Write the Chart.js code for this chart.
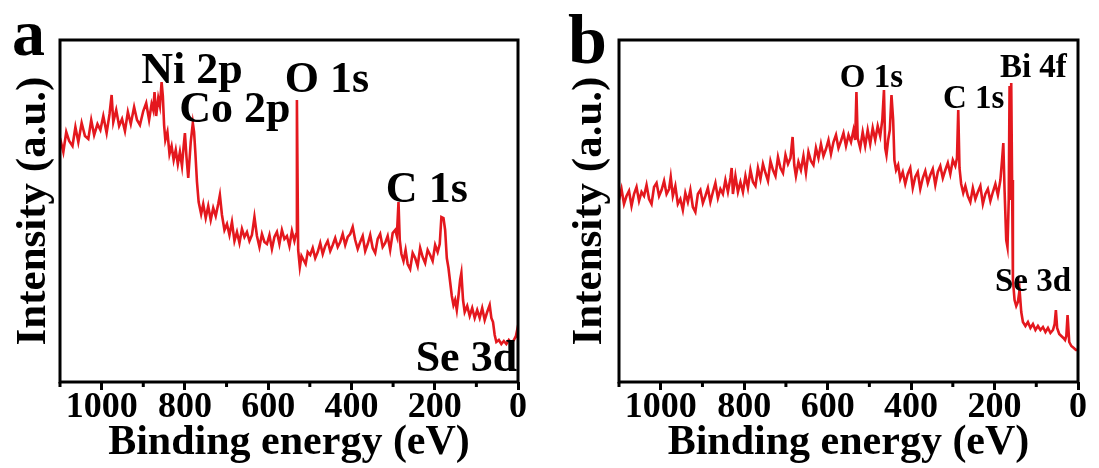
<!DOCTYPE html>
<html><head><meta charset="utf-8">
<script src="https://cdn.jsdelivr.net/npm/chart.js@4/dist/chart.umd.min.js"></script>
<style>
html,body{margin:0;padding:0;background:#fff;}
#wrap{position:relative;width:1099px;height:468px;overflow:hidden;}
#ca{position:absolute;left:0;top:0;}
#cb{position:absolute;left:549px;top:0;}
</style></head><body>
<div id="wrap"><canvas id="ca" width="549" height="468"></canvas><canvas id="cb" width="550" height="468"></canvas></div>
<script>
// ---- Panel a: binding energy (eV) and intensity (a.u.) ----
const energyA = [1100,1092,1085,1078,1070,1063,1056,1048,1040,1032,1025,1018,1010,1003,996,988,981,976,972,965,958,951,944,937,930,922,915,908,900,893,886,880,876,873,869,864,860,856,853,850,847,842,837,832,827,822,817,812,807,803,800,796,792,786,781,778,775,771,767,761,756,750,744,738,732,726,720,716,711,705,699,693,687,681,675,669,663,657,651,645,639,633,627,621,615,609,603,597,591,585,579,573,567,561,555,549,543,537,533,531,528,524,520,515,510,505,499,493,487,481,475,469,463,457,451,445,439,433,427,421,415,409,403,397,391,385,379,373,367,361,355,349,343,337,331,325,319,313,307,301,295,291,287,284,280,275,270,265,259,253,247,241,235,229,223,217,211,205,199,193,188,184,179,175,171,167,163,159,155,151,147,143,139,136,132,128,122,116,110,104,98,92,86,80,74,68,64,60,56,52,46,40,34,28,22,16,10,5,2,0];
const intensityA = [244,230,250,241,236,255,240,259,246,243,262,247,258,252,266,249,268,287,260,272,256,263,251,270,258,275,262,257,271,279,262,278,272,290,266,284,276,300,286,257,242,250,228,236,222,232,218,230,216,236,249,224,204,240,259,250,230,200,180,168,178,164,176,162,174,166,178,187,167,152,158,147,160,141,150,139,153,145,150,141,147,165,146,135,148,140,138,147,133,145,150,138,152,143,146,136,151,141,148,282,132,115,126,122,118,130,127,134,124,130,139,128,136,141,131,137,144,135,140,148,137,145,148,155,142,133,140,146,131,138,147,134,129,143,148,135,139,146,132,149,152,146,180,142,128,121,132,118,113,129,124,116,134,125,119,132,127,121,137,130,138,165,164,152,124,114,100,86,77,82,72,86,102,109,82,70,76,66,74,64,72,64,74,62,70,77,64,60,47,40,42,38,41,38,42,39,42,46,52,44];

// ---- Panel b ----
const energyB = [1100,1094,1088,1082,1076,1070,1064,1058,1052,1046,1040,1034,1028,1022,1016,1010,1004,998,992,986,980,976,971,965,959,953,947,941,935,929,923,917,911,905,899,893,887,881,875,869,863,857,851,845,839,833,830,827,821,815,809,803,797,791,785,779,773,767,761,755,749,743,737,731,725,719,713,707,701,695,689,684,680,676,670,664,658,652,646,640,634,628,622,616,610,604,598,592,586,580,574,568,562,556,550,544,538,534,531,528,522,516,510,504,498,492,486,480,474,469,465,462,459,455,451,447,443,440,436,431,426,420,414,408,402,396,390,384,378,372,366,360,354,348,342,336,330,324,318,312,306,300,294,290,287,284,280,275,270,264,258,252,246,240,234,228,222,216,210,204,198,192,186,182,179,176,172,169,166,164,162,160,158,156,152,148,144,140,136,132,126,120,114,108,102,96,90,84,78,72,66,60,56,53,50,45,40,35,31,28,25,21,16,10,5,2,0];
const intensityB = [182,193,178,186,191,176,188,195,181,190,186,197,183,178,195,199,186,192,201,188,193,205,186,196,178,183,172,189,180,192,175,170,188,192,179,186,194,180,190,199,184,193,188,202,190,204,214,188,206,190,200,190,206,194,212,200,196,214,203,218,209,201,221,212,206,225,214,209,227,218,224,245,217,206,220,212,226,209,230,221,217,234,224,238,226,233,242,228,240,247,234,241,249,236,247,240,252,242,290,244,234,250,236,252,238,254,242,256,246,262,292,234,227,242,252,287,262,222,212,217,203,210,198,208,214,194,205,210,193,204,211,199,207,213,197,210,216,204,212,219,208,222,216,224,272,214,198,189,196,186,180,194,183,190,196,178,188,193,181,190,198,187,202,222,239,192,142,135,182,296,182,299,202,102,82,76,80,92,70,60,56,60,54,58,52,56,52,55,50,54,49,52,58,72,54,48,46,44,42,46,67,40,36,34,32,32,33];

// ---- axes and labels ----
const xMajorTicks = [1000, 800, 600, 400, 200, 0];
const xMinorTicks = [1100, 900, 700, 500, 300, 100];
const xTitleText = 'Binding energy (eV)';
const yTitleText = 'Intensity (a.u.)';
const peakLabelsA = ['Ni 2p', 'Co 2p', 'O 1s', 'C 1s', 'Se 3d'];
const peakLabelEnergyA = [783, 680, 459, 219, 124];
const peakLabelIntensityA = [299, 260, 290, 180, 11];
const peakLabelsB = ['O 1s', 'C 1s', 'Bi 4f', 'Se 3d'];
const peakLabelEnergyB = [495, 250, 107, 108];
const peakLabelIntensityB = [295, 274, 305, 91];

const SERIF = '"Liberation Serif", "Times New Roman", serif';
const RED = '#e4181e';

function buildChart(canvasId, cfg) {
  const points = cfg.energy.map((e, i) => ({x: e, y: cfg.intensity[i]}));
  const decor = {
    id: 'decor',
    afterDraw(chart) {
      const ctx = chart.ctx, ca = chart.chartArea;
      const xs = chart.scales.x, ys = chart.scales.y;
      ctx.save();
      ctx.strokeStyle = '#000';
      ctx.lineWidth = 3;
      ctx.strokeRect(ca.left, ca.top, ca.right - ca.left, ca.bottom - ca.top);
      // minor ticks
      ctx.beginPath();
      xMinorTicks.forEach(v => {
        const px = xs.getPixelForValue(v);
        ctx.moveTo(px, ca.bottom);
        ctx.lineTo(px, ca.bottom + 5);
      });
      ctx.stroke();
      // peak labels
      ctx.fillStyle = '#000';
      ctx.font = 'bold ' + cfg.labelSize + 'px ' + SERIF;
      ctx.textAlign = 'center';
      ctx.textBaseline = 'alphabetic';
      cfg.labels.forEach((t, i) => {
        ctx.fillText(t, xs.getPixelForValue(cfg.labelE[i]), ys.getPixelForValue(cfg.labelV[i]));
      });
      // panel letter
      ctx.font = 'bold ' + cfg.letterSize + 'px ' + SERIF;
      ctx.textAlign = 'left';
      ctx.fillText(cfg.letter, cfg.letterX, cfg.letterY);
      ctx.restore();
    }
  };
  return new Chart(document.getElementById(canvasId), {
    type: 'line',
    data: {datasets: [{data: points, borderColor: RED, borderWidth: 2.6, pointRadius: 0, tension: 0, fill: false}]},
    options: {
      responsive: false, animation: false, devicePixelRatio: 1,
      layout: {padding: {top: 40, right: cfg.rightPad, bottom: 0, left: 0}},
      plugins: {legend: {display: false}, tooltip: {enabled: false}},
      scales: {
        x: {
          type: 'linear', min: 0, max: 1100, reverse: true,
          afterBuildTicks: s => { s.ticks = xMajorTicks.map(v => ({value: v})); },
          afterFit: s => { s.height = 86; },
          border: {display: false},
          grid: {drawOnChartArea: false, drawTicks: true, tickLength: 8, tickWidth: 3, tickColor: '#000'},
          ticks: {color: '#000', padding: 0, maxRotation: 0, autoSkip: false,
                  font: {family: SERIF, size: 36, weight: 'bold', lineHeight: 1},
                  callback: v => String(v)},
          title: {display: true, text: xTitleText, color: '#000', padding: {top: 0, bottom: 4},
                  font: {family: SERIF, size: 42, weight: 'bold', lineHeight: 1}}
        },
        y: {
          min: 0, max: 342,
          afterFit: s => { s.width = cfg.leftW; },
          border: {display: false},
          grid: {display: false},
          ticks: {display: false},
          title: {display: true, text: yTitleText, color: '#000', padding: {top: cfg.yTitlePad, bottom: 0},
                  font: {family: SERIF, size: 43, weight: 'bold', lineHeight: 1.2}}
        }
      }
    },
    plugins: [decor]
  });
}

buildChart('ca', {energy: energyA, intensity: intensityA, rightPad: 31, leftW: 60, yTitlePad: 8,
  labels: peakLabelsA, labelE: peakLabelEnergyA, labelV: peakLabelIntensityA, labelSize: 44,
  letter: 'a', letterSize: 66, letterX: 12, letterY: 55});
buildChart('cb', {energy: energyB, intensity: intensityB, rightPad: 21, leftW: 70, yTitlePad: 15,
  labels: peakLabelsB, labelE: peakLabelEnergyB, labelV: peakLabelIntensityB, labelSize: 33,
  letter: 'b', letterSize: 70, letterX: 19, letterY: 63});
</script>
</body></html>
